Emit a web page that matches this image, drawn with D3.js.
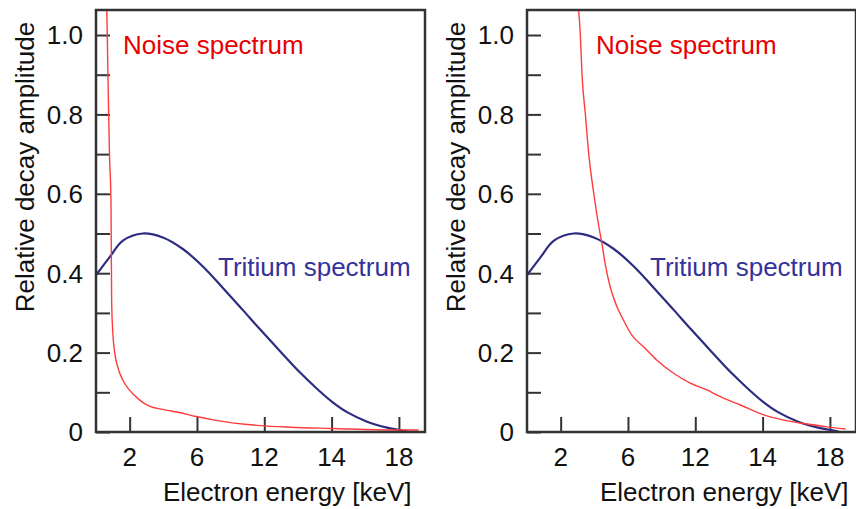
<!DOCTYPE html>
<html>
<head>
<meta charset="utf-8">
<script src="https://cdn.jsdelivr.net/npm/d3@7"></script>
<style>
  body { margin: 0; background: #fff; }
  svg text { font-family: "Liberation Sans", Arial, sans-serif; }
</style>
</head>
<body>
<svg id="chart" width="856" height="509"></svg>
<script>
// tick labels as printed on the figure (evenly spaced ticks)
const xTickValues = [2, 6, 10, 14, 18];
const xTickLabels = ["2", "6", "12", "14", "18"];
const yTickValues = [0, 0.1, 0.2, 0.3, 0.4, 0.5, 0.6, 0.7, 0.8, 0.9, 1.0];
const yTickLabels = { 0: "0", 0.2: "0.2", 0.4: "0.4", 0.6: "0.6", 0.8: "0.8", 1: "1.0" };

// tritium beta spectrum (same in both panels)
const tritiumEnergy = [0, 0.8, 1.6, 2.78, 3.97, 5.16, 6.35, 7.54, 8.73, 9.76, 10.95, 12.14, 13.13, 14.03, 14.92, 16.11, 17.3, 18.3, 18.6];
const tritiumAmp    = [0.395, 0.44, 0.482, 0.50, 0.490, 0.461, 0.417, 0.363, 0.307, 0.258, 0.203, 0.149, 0.109, 0.076, 0.050, 0.026, 0.011, 0.003, 0];

// noise spectrum, left panel
const noiseLeftEnergy = [0.64, 0.67, 0.73, 0.80, 0.89, 0.93, 0.99, 1.09, 1.29, 1.59, 1.98, 2.58, 3.17, 3.97, 4.96, 5.95, 7.04, 9.76, 11.55, 14.03, 17.68, 19.17];
const noiseLeftAmp    = [1.063, 1.0, 0.85, 0.70, 0.58, 0.33, 0.257, 0.207, 0.164, 0.131, 0.106, 0.081, 0.065, 0.057, 0.049, 0.039, 0.030, 0.016, 0.012, 0.009, 0.005, 0.005];

// noise spectrum, right panel
const noiseRightEnergy = [3.07, 3.17, 3.27, 3.47, 3.67, 3.97, 4.27, 4.45, 4.64, 4.94, 5.34, 5.73, 6.23, 6.92, 7.72, 8.71, 9.7, 10.69, 11.29, 12.68, 14.07, 15.26, 16.65, 17.84, 18.93];
const noiseRightAmp    = [1.063, 1.0, 0.90, 0.80, 0.70, 0.60, 0.517, 0.475, 0.425, 0.366, 0.316, 0.282, 0.244, 0.215, 0.181, 0.148, 0.123, 0.106, 0.093, 0.068, 0.043, 0.030, 0.020, 0.013, 0.0076];

const svg = d3.select("#chart");

const panels = [
	{ left: 96, noiseX: noiseLeftEnergy, noiseY: noiseLeftAmp, noiseLabelX: 123, tritLabelX: 218, titleX: 163 },
	{ left: 527, noiseX: noiseRightEnergy, noiseY: noiseRightAmp, noiseLabelX: 596, tritLabelX: 650, titleX: 600 }
];

const plotW = 329, plotTop = 10, plotBottom = 432;
const red = "#ff3b3b", navy = "#2c2c80";
const fs = 26;

panels.forEach(function (p, i) {
	const x = d3.scaleLinear().domain([0, 19.55]).range([p.left, p.left + plotW]);
	const y = d3.scaleLinear().domain([0, 1.063]).range([plotBottom, plotTop]);

	const g = svg.append("g");

	g.append("clipPath").attr("id", "clip" + i)
		.append("rect").attr("x", p.left).attr("y", plotTop).attr("width", plotW).attr("height", plotBottom - plotTop);

	// ticks pointing inward
	const yAxis = d3.axisRight(y).tickValues(yTickValues).tickSize(14).tickFormat("");
	g.append("g").attr("transform", `translate(${p.left},0)`).call(yAxis)
		.call(s => s.select(".domain").remove())
		.selectAll("line").attr("stroke", "#333").attr("stroke-width", 2);

	const xAxis = d3.axisTop(x).tickValues(xTickValues).tickSize(15).tickFormat("");
	g.append("g").attr("transform", `translate(0,${plotBottom})`).call(xAxis)
		.call(s => s.select(".domain").remove())
		.selectAll("line").attr("stroke", "#333").attr("stroke-width", 2);

	// tick labels
	g.selectAll(".ylab").data(Object.keys(yTickLabels)).enter().append("text")
		.attr("x", p.left - 13).attr("y", d => y(+d)).attr("dy", "0.36em")
		.attr("text-anchor", "end").attr("font-size", fs).attr("fill", "#111")
		.text(d => yTickLabels[d]);

	g.selectAll(".xlab").data(xTickValues).enter().append("text")
		.attr("x", d => x(d)).attr("y", 466)
		.attr("text-anchor", "middle").attr("font-size", fs).attr("fill", "#111")
		.text((d, j) => xTickLabels[j]);

	// curves
	const smooth = d3.line().x(d => x(d[0])).y(d => y(d[1])).curve(d3.curveCatmullRom.alpha(0.5));
	const line = d3.line().x(d => x(d[0])).y(d => y(d[1])).curve(d3.curveMonotoneX);
	const trit = tritiumEnergy.map((e, j) => [e, tritiumAmp[j]]);
	const noise = p.noiseX.map((e, j) => [e, p.noiseY[j]]);

	g.append("path").datum(trit)
		.attr("clip-path", `url(#clip${i})`)
		.attr("d", smooth)
		.attr("fill", "none").attr("stroke", navy).attr("stroke-width", 2.2);

	g.append("path").datum(noise)
		.attr("clip-path", `url(#clip${i})`)
		.attr("d", line)
		.attr("fill", "none").attr("stroke", red).attr("stroke-width", 1.4);

	// frame
	g.append("rect").attr("x", p.left).attr("y", plotTop).attr("width", plotW).attr("height", plotBottom - plotTop)
		.attr("fill", "none").attr("stroke", "#333").attr("stroke-width", 2.5);

	// labels
	g.append("text").attr("x", p.noiseLabelX).attr("y", 54)
		.attr("font-size", fs).attr("fill", "#e80000").text("Noise spectrum");
	g.append("text").attr("x", p.tritLabelX).attr("y", 276)
		.attr("font-size", fs).attr("fill", "#33339a").text("Tritium spectrum");

	g.append("text").attr("x", p.titleX).attr("y", 501)
		.attr("font-size", fs).attr("fill", "#111").text("Electron energy [keV]");

	g.append("text")
		.attr("transform", `translate(${p.left - 62},167) rotate(-90)`)
		.attr("text-anchor", "middle").attr("font-size", fs).attr("fill", "#111")
		.text("Relative decay amplitude");
});
</script>
</body>
</html>
